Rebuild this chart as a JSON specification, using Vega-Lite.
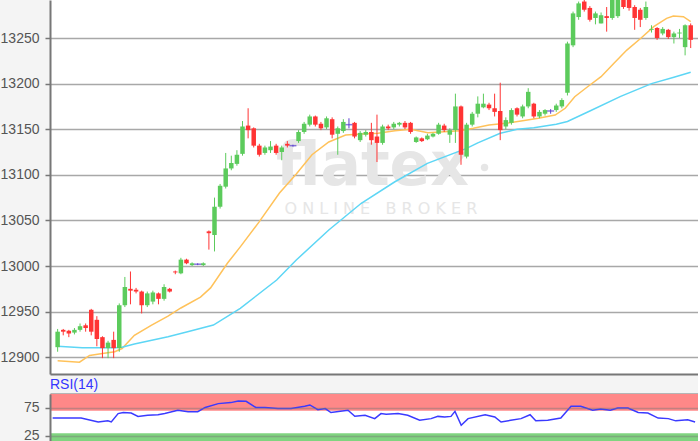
{
"$schema": "https://vega.github.io/schema/vega-lite/v6.json",
"background": "#f4f4f4",
"padding": {"left": 0, "top": 0, "right": 0, "bottom": 0},
"spacing": 20,
"bounds": "flush",
"config": {
  "view": {"stroke": null, "fill": "#ffffff"},
  "font": "Liberation Sans",
  "axis": {"labelFont": "Liberation Sans", "labelFontSize": 14, "labelColor": "#555555", "domainColor": "#777777", "domainWidth": 2, "tickColor": "#777777", "tickWidth": 1.5, "tickSize": 5, "labelPadding": 6, "gridColor": "#a8a8a8", "gridWidth": 1.5}
},
"datasets": {
  "candles": [
    {"i":0,"o":12911,"h":12931,"l":12906,"c":12928,"d":"up"},
    {"i":1,"o":12930,"h":12931,"l":12924,"c":12928,"d":"down"},
    {"i":2,"o":12929,"h":12930,"l":12922,"c":12926,"d":"down"},
    {"i":3,"o":12927,"h":12932,"l":12925,"c":12930,"d":"up"},
    {"i":4,"o":12930,"h":12937,"l":12928,"c":12934,"d":"up"},
    {"i":5,"o":12935,"h":12937,"l":12928,"c":12932,"d":"down"},
    {"i":6,"o":12952,"h":12953,"l":12924,"c":12928,"d":"down"},
    {"i":7,"o":12941,"h":12945,"l":12912,"c":12920,"d":"down"},
    {"i":8,"o":12922,"h":12923,"l":12899,"c":12910,"d":"down"},
    {"i":9,"o":12910,"h":12918,"l":12899,"c":12916,"d":"up"},
    {"i":10,"o":12919,"h":12928,"l":12899,"c":12910,"d":"down"},
    {"i":11,"o":12910,"h":12959,"l":12906,"c":12957,"d":"up"},
    {"i":12,"o":12957,"h":12988,"l":12955,"c":12977,"d":"up"},
    {"i":13,"o":12975,"h":12994,"l":12958,"c":12973,"d":"down"},
    {"i":14,"o":12974,"h":12976,"l":12970,"c":12972,"d":"down"},
    {"i":15,"o":12972,"h":12973,"l":12948,"c":12957,"d":"down"},
    {"i":16,"o":12957,"h":12972,"l":12955,"c":12970,"d":"up"},
    {"i":17,"o":12961,"h":12973,"l":12958,"c":12971,"d":"up"},
    {"i":18,"o":12970,"h":12971,"l":12958,"c":12964,"d":"down"},
    {"i":19,"o":12964,"h":12980,"l":12962,"c":12977,"d":"up"},
    {"i":20,"o":12975,"h":12976,"l":12971,"c":12972,"d":"down"},
    {"i":21,"o":12994,"h":12995,"l":12991,"c":12993,"d":"down"},
    {"i":22,"o":12992,"h":13009,"l":12991,"c":13007,"d":"up"},
    {"i":23,"o":13007,"h":13008,"l":13002,"c":13003,"d":"down"},
    {"i":24,"o":13001,"h":13004,"l":13000,"c":13003,"d":"up"},
    {"i":25,"o":13002,"h":13003,"l":13001,"c":13002,"d":"flat"},
    {"i":26,"o":13001,"h":13004,"l":13000,"c":13003,"d":"up"},
    {"i":27,"o":13038,"h":13039,"l":13018,"c":13036,"d":"down"},
    {"i":28,"o":13034,"h":13075,"l":13016,"c":13065,"d":"up"},
    {"i":29,"o":13065,"h":13090,"l":13063,"c":13088,"d":"up"},
    {"i":30,"o":13087,"h":13124,"l":13085,"c":13107,"d":"up"},
    {"i":31,"o":13107,"h":13121,"l":13105,"c":13113,"d":"up"},
    {"i":32,"o":13112,"h":13127,"l":13110,"c":13122,"d":"up"},
    {"i":33,"o":13123,"h":13159,"l":13121,"c":13153,"d":"up"},
    {"i":34,"o":13154,"h":13173,"l":13140,"c":13149,"d":"down"},
    {"i":35,"o":13151,"h":13152,"l":13130,"c":13132,"d":"down"},
    {"i":36,"o":13132,"h":13134,"l":13120,"c":13122,"d":"down"},
    {"i":37,"o":13124,"h":13132,"l":13122,"c":13130,"d":"up"},
    {"i":38,"o":13127,"h":13137,"l":13124,"c":13131,"d":"up"},
    {"i":39,"o":13132,"h":13134,"l":13122,"c":13124,"d":"down"},
    {"i":40,"o":13125,"h":13132,"l":13116,"c":13130,"d":"up"},
    {"i":41,"o":13134,"h":13137,"l":13130,"c":13132,"d":"down"},
    {"i":42,"o":13132,"h":13133,"l":13131,"c":13132,"d":"flat"},
    {"i":43,"o":13137,"h":13149,"l":13135,"c":13147,"d":"up"},
    {"i":44,"o":13147,"h":13158,"l":13145,"c":13156,"d":"up"},
    {"i":45,"o":13155,"h":13166,"l":13153,"c":13164,"d":"up"},
    {"i":46,"o":13164,"h":13165,"l":13153,"c":13155,"d":"down"},
    {"i":47,"o":13156,"h":13158,"l":13149,"c":13151,"d":"down"},
    {"i":48,"o":13152,"h":13164,"l":13150,"c":13162,"d":"up"},
    {"i":49,"o":13161,"h":13163,"l":13140,"c":13144,"d":"down"},
    {"i":50,"o":13145,"h":13153,"l":13122,"c":13151,"d":"up"},
    {"i":51,"o":13148,"h":13161,"l":13146,"c":13158,"d":"up"},
    {"i":52,"o":13155,"h":13162,"l":13151,"c":13155,"d":"flat"},
    {"i":53,"o":13157,"h":13158,"l":13140,"c":13142,"d":"down"},
    {"i":54,"o":13138,"h":13148,"l":13136,"c":13146,"d":"up"},
    {"i":55,"o":13144,"h":13149,"l":13142,"c":13147,"d":"up"},
    {"i":56,"o":13147,"h":13157,"l":13133,"c":13138,"d":"down"},
    {"i":57,"o":13142,"h":13166,"l":13114,"c":13135,"d":"down"},
    {"i":58,"o":13135,"h":13155,"l":13133,"c":13153,"d":"up"},
    {"i":59,"o":13153,"h":13155,"l":13149,"c":13151,"d":"down"},
    {"i":60,"o":13152,"h":13158,"l":13150,"c":13156,"d":"up"},
    {"i":61,"o":13155,"h":13158,"l":13153,"c":13157,"d":"up"},
    {"i":62,"o":13157,"h":13159,"l":13150,"c":13152,"d":"down"},
    {"i":63,"o":13157,"h":13158,"l":13145,"c":13147,"d":"down"},
    {"i":64,"o":13136,"h":13142,"l":13135,"c":13141,"d":"up"},
    {"i":65,"o":13140,"h":13141,"l":13136,"c":13137,"d":"down"},
    {"i":66,"o":13139,"h":13145,"l":13138,"c":13143,"d":"up"},
    {"i":67,"o":13142,"h":13146,"l":13141,"c":13145,"d":"up"},
    {"i":68,"o":13145,"h":13157,"l":13144,"c":13155,"d":"up"},
    {"i":69,"o":13154,"h":13156,"l":13147,"c":13149,"d":"down"},
    {"i":70,"o":13144,"h":13151,"l":13135,"c":13149,"d":"up"},
    {"i":71,"o":13149,"h":13189,"l":13135,"c":13175,"d":"up"},
    {"i":72,"o":13175,"h":13176,"l":13111,"c":13122,"d":"down"},
    {"i":73,"o":13120,"h":13157,"l":13118,"c":13155,"d":"up"},
    {"i":74,"o":13155,"h":13169,"l":13153,"c":13167,"d":"up"},
    {"i":75,"o":13167,"h":13186,"l":13163,"c":13178,"d":"up"},
    {"i":76,"o":13174,"h":13189,"l":13173,"c":13178,"d":"up"},
    {"i":77,"o":13177,"h":13179,"l":13171,"c":13173,"d":"down"},
    {"i":78,"o":13173,"h":13189,"l":13164,"c":13169,"d":"down"},
    {"i":79,"o":13170,"h":13201,"l":13138,"c":13149,"d":"down"},
    {"i":80,"o":13153,"h":13163,"l":13150,"c":13160,"d":"up"},
    {"i":81,"o":13157,"h":13173,"l":13155,"c":13171,"d":"up"},
    {"i":82,"o":13173,"h":13174,"l":13164,"c":13166,"d":"down"},
    {"i":83,"o":13164,"h":13177,"l":13162,"c":13175,"d":"up"},
    {"i":84,"o":13175,"h":13195,"l":13173,"c":13191,"d":"up"},
    {"i":85,"o":13178,"h":13179,"l":13162,"c":13164,"d":"down"},
    {"i":86,"o":13164,"h":13171,"l":13162,"c":13169,"d":"up"},
    {"i":87,"o":13167,"h":13172,"l":13165,"c":13171,"d":"up"},
    {"i":88,"o":13170,"h":13172,"l":13167,"c":13170,"d":"flat"},
    {"i":89,"o":13171,"h":13178,"l":13169,"c":13176,"d":"up"},
    {"i":90,"o":13175,"h":13184,"l":13173,"c":13182,"d":"up"},
    {"i":91,"o":13190,"h":13246,"l":13187,"c":13244,"d":"up"},
    {"i":92,"o":13242,"h":13279,"l":13240,"c":13277,"d":"up"},
    {"i":93,"o":13273,"h":13290,"l":13270,"c":13288,"d":"up"},
    {"i":94,"o":13290,"h":13292,"l":13279,"c":13281,"d":"down"},
    {"i":95,"o":13283,"h":13285,"l":13268,"c":13270,"d":"down"},
    {"i":96,"o":13272,"h":13279,"l":13265,"c":13277,"d":"up"},
    {"i":97,"o":13266,"h":13278,"l":13266,"c":13275,"d":"up"},
    {"i":98,"o":13274,"h":13284,"l":13257,"c":13272,"d":"down"},
    {"i":99,"o":13272,"h":13295,"l":13270,"c":13292,"d":"up"},
    {"i":100,"o":13274,"h":13298,"l":13272,"c":13294,"d":"up"},
    {"i":101,"o":13296,"h":13298,"l":13282,"c":13284,"d":"down"},
    {"i":102,"o":13292,"h":13295,"l":13280,"c":13283,"d":"down"},
    {"i":103,"o":13284,"h":13286,"l":13259,"c":13272,"d":"down"},
    {"i":104,"o":13281,"h":13283,"l":13262,"c":13270,"d":"down"},
    {"i":105,"o":13272,"h":13290,"l":13270,"c":13284,"d":"up"},
    {"i":106,"o":13259,"h":13264,"l":13256,"c":13260,"d":"up"},
    {"i":107,"o":13261,"h":13262,"l":13248,"c":13250,"d":"down"},
    {"i":108,"o":13255,"h":13262,"l":13253,"c":13260,"d":"up"},
    {"i":109,"o":13259,"h":13260,"l":13249,"c":13251,"d":"down"},
    {"i":110,"o":13251,"h":13257,"l":13244,"c":13255,"d":"up"},
    {"i":111,"o":13255,"h":13260,"l":13250,"c":13256,"d":"up"},
    {"i":112,"o":13240,"h":13265,"l":13231,"c":13264,"d":"up"},
    {"i":113,"o":13264,"h":13266,"l":13239,"c":13248,"d":"down"}
  ],
  "ma": [
    {"i":0,"v":12896,"s":"short"},{"i":3.9,"v":12894.5,"s":"short"},{"i":5.7,"v":12902,"s":"short"},{"i":8,"v":12904,"s":"short"},{"i":10.2,"v":12906,"s":"short"},{"i":11.5,"v":12909.5,"s":"short"},{"i":13.7,"v":12924,"s":"short"},{"i":16.7,"v":12935,"s":"short"},{"i":19.7,"v":12945,"s":"short"},{"i":22,"v":12954,"s":"short"},{"i":25.5,"v":12966,"s":"short"},{"i":27.3,"v":12976,"s":"short"},{"i":30.3,"v":13003,"s":"short"},{"i":32.6,"v":13021,"s":"short"},{"i":36,"v":13048.7,"s":"short"},{"i":39.6,"v":13080,"s":"short"},{"i":42.6,"v":13101,"s":"short"},{"i":45.4,"v":13122,"s":"short"},{"i":48.4,"v":13136,"s":"short"},{"i":51.4,"v":13143.6,"s":"short"},{"i":54.2,"v":13144.7,"s":"short"},{"i":57.2,"v":13145.5,"s":"short"},{"i":60.2,"v":13148.4,"s":"short"},{"i":63,"v":13150,"s":"short"},{"i":66.1,"v":13146.2,"s":"short"},{"i":69,"v":13147.3,"s":"short"},{"i":71.8,"v":13148.4,"s":"short"},{"i":74.2,"v":13151,"s":"short"},{"i":77,"v":13154.6,"s":"short"},{"i":80,"v":13156.5,"s":"short"},{"i":83,"v":13159.3,"s":"short"},{"i":85.8,"v":13162,"s":"short"},{"i":88.8,"v":13165.6,"s":"short"},{"i":90.6,"v":13173,"s":"short"},{"i":92.3,"v":13185.7,"s":"short"},{"i":94.6,"v":13196.6,"s":"short"},{"i":97,"v":13207.6,"s":"short"},{"i":99.3,"v":13222.3,"s":"short"},{"i":101.6,"v":13236.8,"s":"short"},{"i":104.1,"v":13249.7,"s":"short"},{"i":106.4,"v":13262.4,"s":"short"},{"i":108.7,"v":13271.6,"s":"short"},{"i":109.9,"v":13274.1,"s":"short"},{"i":111.7,"v":13273.4,"s":"short"},{"i":113,"v":13268,"s":"short"},
    {"i":0,"v":12912,"s":"long"},{"i":4.4,"v":12910.5,"s":"long"},{"i":10.2,"v":12910.5,"s":"long"},{"i":11.5,"v":12911,"s":"long"},{"i":13.7,"v":12914.5,"s":"long"},{"i":19.7,"v":12922.5,"s":"long"},{"i":23.2,"v":12928,"s":"long"},{"i":27.8,"v":12935.3,"s":"long"},{"i":32.6,"v":12953.6,"s":"long"},{"i":39.1,"v":12984.7,"s":"long"},{"i":42.6,"v":13006.6,"s":"long"},{"i":48.4,"v":13039.5,"s":"long"},{"i":54.2,"v":13068.8,"s":"long"},{"i":60.2,"v":13092.4,"s":"long"},{"i":66,"v":13112.6,"s":"long"},{"i":73,"v":13129,"s":"long"},{"i":75,"v":13135,"s":"long"},{"i":79,"v":13145.5,"s":"long"},{"i":82,"v":13150,"s":"long"},{"i":85,"v":13151.5,"s":"long"},{"i":89,"v":13155.5,"s":"long"},{"i":91,"v":13158.5,"s":"long"},{"i":95,"v":13170,"s":"long"},{"i":100.5,"v":13186,"s":"long"},{"i":106,"v":13200,"s":"long"},{"i":110,"v":13207,"s":"long"},{"i":113,"v":13212.5,"s":"long"}
  ],
  "rsi": [
    {"i":0,"v":57},{"i":5,"v":57},{"i":8,"v":50},{"i":9.7,"v":52},{"i":10.3,"v":50},{"i":11.5,"v":65},{"i":12.4,"v":66.8},{"i":13.8,"v":66},{"i":15,"v":60},{"i":16.7,"v":62},{"i":18.5,"v":63},{"i":19.7,"v":65},{"i":22,"v":71},{"i":23.8,"v":68.5},{"i":25.5,"v":68.5},{"i":26.8,"v":76},{"i":29.1,"v":82.8},{"i":31.3,"v":84.6},{"i":32.6,"v":87.5},{"i":34,"v":87},{"i":35.7,"v":76},{"i":37.3,"v":76},{"i":39.6,"v":74},{"i":41.9,"v":74},{"i":44.3,"v":78},{"i":45.2,"v":80.4},{"i":46.6,"v":72},{"i":47.9,"v":74},{"i":48.9,"v":66.8},{"i":51.9,"v":71},{"i":53.1,"v":60.2},{"i":54.9,"v":62},{"i":56.6,"v":56},{"i":57.7,"v":65},{"i":58.6,"v":64},{"i":60.7,"v":65},{"i":62.4,"v":62},{"i":64.5,"v":53},{"i":66.5,"v":56},{"i":67.7,"v":60},{"i":68.9,"v":59},{"i":70,"v":60},{"i":70.7,"v":69},{"i":71.8,"v":44},{"i":73,"v":56},{"i":76,"v":63},{"i":77.7,"v":59},{"i":78.8,"v":50},{"i":80.5,"v":53},{"i":82.3,"v":56},{"i":83.9,"v":63},{"i":84.9,"v":52},{"i":87,"v":53},{"i":89.3,"v":57},{"i":91.1,"v":78},{"i":92.8,"v":78},{"i":94.9,"v":71},{"i":96.3,"v":73},{"i":98,"v":71},{"i":99.3,"v":75},{"i":101.1,"v":75},{"i":102.9,"v":67},{"i":104.6,"v":66},{"i":106.4,"v":57},{"i":108.2,"v":56},{"i":109.5,"v":52},{"i":111.6,"v":54},{"i":112.9,"v":50}
  ]
},
"vconcat": [
  {
    "width": 648,
    "height": 374,
    "layer": [
      {
        "data": {"values": [{}]},
        "mark": {"type": "text", "text": "flatex", "font": "DejaVu Sans", "fontWeight": "bold", "fontSize": 60, "color": "#e6e6e6", "align": "center", "baseline": "alphabetic", "clip": true},
        "encoding": {
          "x": {"datum": 56.2, "type": "quantitative", "scale": {"domain": [-0.47, 113.41], "nice": false, "zero": false}, "axis": {"orient": "bottom", "labels": false, "ticks": false, "grid": false, "domain": true}, "title": null},
          "y": {"datum": 13089, "type": "quantitative", "scale": {"domain": [12881.6, 13291.7], "nice": false, "zero": false}, "axis": {"values": [12900,12950,13000,13050,13100,13150,13200,13250], "format": "d", "grid": true}, "title": null}
        }
      },
      {
        "data": {"values": [{}]},
        "mark": {"type": "point", "filled": true, "size": 55, "color": "#e6e6e6", "opacity": 1, "clip": true},
        "encoding": {
          "x": {"datum": 76.2, "type": "quantitative", "title": null},
          "y": {"datum": 13108, "type": "quantitative", "title": null}
        }
      },
      {
        "data": {"values": [{}]},
        "mark": {"type": "text", "text": "O N L I N E \u00a0 B R O K E R", "font": "DejaVu Sans", "fontSize": 16, "color": "#e6e6e6", "align": "center", "baseline": "middle", "clip": true},
        "encoding": {
          "x": {"datum": 57.7, "type": "quantitative", "title": null},
          "y": {"datum": 13063, "type": "quantitative", "title": null}
        }
      },
      {
        "data": {"name": "ma"},
        "mark": {"type": "line", "strokeWidth": 1.5, "clip": true},
        "encoding": {
          "x": {"field": "i", "type": "quantitative", "title": null},
          "y": {"field": "v", "type": "quantitative", "title": null},
          "color": {"field": "s", "type": "nominal", "scale": {"domain": ["up","down","flat","short","long"], "range": ["#5ccb5c","#ff3434","#5a3fd0","#ffc25a","#5dd6f5"]}, "legend": null}
        }
      },
      {
        "data": {"name": "candles"},
        "mark": {"type": "rule", "strokeWidth": 1, "clip": true},
        "encoding": {
          "x": {"field": "i", "type": "quantitative", "title": null},
          "y": {"field": "l", "type": "quantitative", "title": null},
          "y2": {"field": "h"},
          "color": {"field": "d", "type": "nominal", "scale": {"domain": ["up","down","flat","short","long"], "range": ["#5ccb5c","#ff3434","#5a3fd0","#ffc25a","#5dd6f5"]}, "legend": null}
        }
      },
      {
        "data": {"name": "candles"},
        "mark": {"type": "bar", "width": 4.5, "clip": true},
        "encoding": {
          "x": {"field": "i", "type": "quantitative", "title": null},
          "y": {"field": "o", "type": "quantitative", "title": null},
          "y2": {"field": "c"},
          "color": {"field": "d", "type": "nominal", "scale": {"domain": ["up","down","flat","short","long"], "range": ["#5ccb5c","#ff3434","#5a3fd0","#ffc25a","#5dd6f5"]}, "legend": null}
        }
      },
      {
        "data": {"name": "candles"},
        "transform": [{"filter": "datum.d === 'flat'"}],
        "mark": {"type": "tick", "orient": "horizontal", "size": 7, "thickness": 1.5, "clip": true},
        "encoding": {
          "x": {"field": "i", "type": "quantitative", "title": null},
          "y": {"field": "c", "type": "quantitative", "title": null},
          "color": {"field": "d", "type": "nominal", "scale": {"domain": ["up","down","flat","short","long"], "range": ["#5ccb5c","#ff3434","#5a3fd0","#ffc25a","#5dd6f5"]}, "legend": null}
        }
      }
    ]
  },
  {
    "width": 648,
    "height": 47,
    "title": {"text": "RSI(14)", "anchor": "start", "frame": "group", "color": "#3535ff", "fontSize": 14, "fontWeight": "normal", "font": "Liberation Sans", "offset": 2},
    "layer": [
      {
        "data": {"values": [{}]},
        "mark": {"type": "rect", "color": "#ff8888", "clip": true},
        "encoding": {
          "x": {"datum": -1, "type": "quantitative", "scale": {"domain": [-0.47, 113.41], "nice": false, "zero": false}, "axis": {"orient": "top", "labels": false, "ticks": false, "grid": false, "domain": true, "minExtent": 0, "maxExtent": 0}, "title": null},
          "x2": {"datum": 115},
          "y": {"datum": 70, "type": "quantitative", "scale": {"domain": [16, 100], "nice": false, "zero": false}, "axis": {"values": [25, 50, 75], "labelExpr": "datum.value == 50 ? '' : datum.label", "tickOpacity": {"condition": {"test": "datum.value == 50", "value": 0}, "value": 1}, "grid": true, "gridColor": "#777777", "gridOpacity": 0.45, "zindex": 1}, "title": null},
          "y2": {"datum": 100}
        }
      },
      {
        "data": {"values": [{}]},
        "mark": {"type": "rect", "color": "#80d480", "clip": true},
        "encoding": {
          "x": {"datum": -1, "type": "quantitative", "title": null},
          "x2": {"datum": 115},
          "y": {"datum": 0, "type": "quantitative", "title": null},
          "y2": {"datum": 30}
        }
      },
      {
        "data": {"name": "rsi"},
        "mark": {"type": "line", "color": "#3a3aff", "strokeWidth": 1.5, "clip": true},
        "encoding": {
          "x": {"field": "i", "type": "quantitative", "title": null},
          "y": {"field": "v", "type": "quantitative", "title": null}
        }
      }
    ]
  }
]
}
